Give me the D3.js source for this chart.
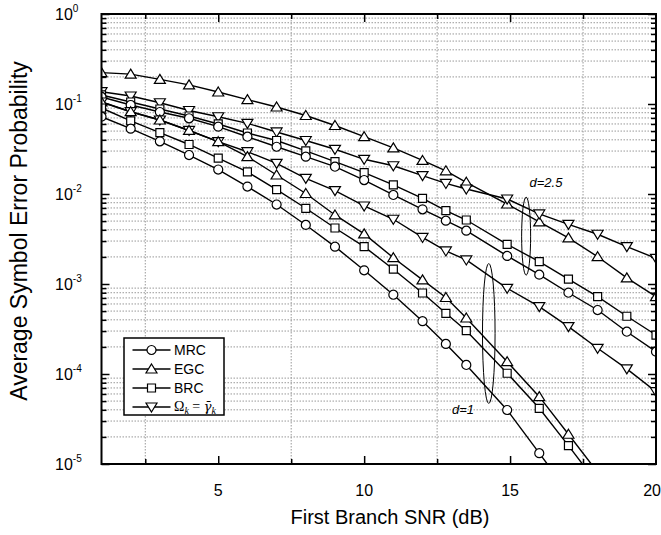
<!DOCTYPE html>
<html>
<head>
<meta charset="utf-8">
<script src="https://cdn.jsdelivr.net/npm/d3@7"></script>
<style>
  body { margin: 0; background: #fff; }
  svg { font-family: "Liberation Sans", Arial, sans-serif; }
</style>
</head>
<body>
<svg id="chart" width="661" height="535"></svg>
<script>
// first branch SNR (dB) where the markers sit
var snr = [1, 2, 3, 4, 5, 6, 7, 8, 9, 10, 11, 12, 12.8, 13.5, 14.9, 16, 17, 18, 19, 20];

// d = 2.5
var egc25 = [0.223, 0.215, 0.188, 0.163, 0.136, 0.112, 0.0926, 0.0745, 0.0577, 0.0433, 0.0325, 0.0236, 0.0181, 0.0135, 0.00774, 0.00489, 0.00325, 0.00201, 0.00117, 0.000723];
var omega25 = [0.137, 0.1227, 0.1033, 0.0847, 0.0722, 0.061, 0.0489, 0.0393, 0.0314, 0.0243, 0.0206, 0.016, 0.0131, 0.01137, 0.0088, 0.006, 0.0046, 0.00357, 0.0026, 0.00193];
var brc25 = [0.126, 0.1052, 0.088, 0.0736, 0.06, 0.0476, 0.0393, 0.0301, 0.0229, 0.0173, 0.0126, 0.00896, 0.00652, 0.00514, 0.00276, 0.00177, 0.00113, 0.000723, 0.000438, 0.000271];
var mrc25 = [0.1197, 0.0975, 0.0815, 0.0694, 0.056, 0.0433, 0.0335, 0.026, 0.0201, 0.0143, 0.00975, 0.00676, 0.00505, 0.00391, 0.00205, 0.00127, 0.0008, 0.000514, 0.000295, 0.000177];

// d = 1
var omega1 = [0.1052, 0.0821, 0.0664, 0.0508, 0.0381, 0.0295, 0.0219, 0.0149, 0.0109, 0.00736, 0.00524, 0.00329, 0.00233, 0.00185, 0.000896, 0.00056, 0.000336, 0.000193, 0.000114, 0.0000636];
var egc1 = [0.1052, 0.0821, 0.0664, 0.0508, 0.0381, 0.026, 0.01626, 0.01013, 0.00585, 0.0036, 0.00196, 0.00111, 0.000708, 0.000419, 0.000137, 0.000056, 0.0000214, 0.0000081];
var brc1 = [0.0903, 0.0648, 0.0482, 0.0355, 0.0251, 0.0176, 0.0112, 0.00694, 0.00419, 0.0026, 0.00146, 0.000794, 0.000472, 0.000303, 0.000102, 0.0000416, 0.000016, 0.000006];
var mrc1 = [0.0722, 0.0532, 0.0385, 0.0271, 0.0187, 0.0121, 0.00764, 0.00453, 0.0026, 0.00142, 0.00076, 0.000386, 0.000216, 0.000126, 0.0000398, 0.0000132, 0.0000048];

// ticks
var xLabels = [5, 10, 15, 20];
var xMajor = [5, 10, 15];
var xMinor = [2.5, 7.5, 12.5, 17.5];
var decades = [-5, -4, -3, -2, -1, 0];

var legendNames = ["MRC", "EGC", "BRC", "Omega"];

var svg = d3.select("#chart");
var margin = { top: 14, right: 5, bottom: 71, left: 101.5 };
var width = 661 - margin.left - margin.right;
var height = 535 - margin.top - margin.bottom;

var g = svg.append("g")
  .attr("transform", "translate(" + margin.left + "," + margin.top + ")");

var x = d3.scaleLinear().domain([1, 20]).range([0, width]);
var y = d3.scaleLog().domain([1e-5, 1]).range([height, 0]);

// minor log ticks 2..9 in each decade
var yMinor = [];
decades.forEach(function(p) {
  if (p < 0) for (var k = 2; k <= 9; k++) yMinor.push(k * Math.pow(10, p));
});
var yMajor = decades.map(function(p) { return Math.pow(10, p); });

// dotted grid
g.append("g").selectAll("line").data(yMinor).enter().append("line")
  .attr("x1", 0).attr("x2", width)
  .attr("y1", function(d) { return y(d); }).attr("y2", function(d) { return y(d); })
  .attr("stroke", "#999").attr("stroke-width", 1).attr("stroke-dasharray", "1.5,1.5");
g.append("g").selectAll("line").data(xMinor).enter().append("line")
  .attr("y1", 0).attr("y2", height)
  .attr("x1", function(d) { return x(d); }).attr("x2", function(d) { return x(d); })
  .attr("stroke", "#999").attr("stroke-width", 1).attr("stroke-dasharray", "1.5,1.5");

// inward ticks on all four sides
function ticks(axis, values, size, tr) {
  var a = g.append("g").attr("transform", tr)
    .call(axis.tickValues(values).tickSize(-size).tickFormat(""));
  a.select(".domain").remove();
  a.selectAll("line").attr("stroke", "#000").attr("stroke-width", 1.5);
}
ticks(d3.axisBottom(x), xMajor, 8, "translate(0," + height + ")");
ticks(d3.axisBottom(x), xMinor, 5, "translate(0," + height + ")");
ticks(d3.axisTop(x), xMajor, 8, "translate(0,0)");
ticks(d3.axisTop(x), xMinor, 5, "translate(0,0)");
ticks(d3.axisLeft(y), yMajor, 8, "translate(0,0)");
ticks(d3.axisLeft(y), yMinor, 5, "translate(0,0)");
ticks(d3.axisRight(y), yMajor, 8, "translate(" + width + ",0)");
ticks(d3.axisRight(y), yMinor, 5, "translate(" + width + ",0)");

// curves
var series = [
  { values: egc25, shape: "up" },
  { values: omega25, shape: "down" },
  { values: brc25, shape: "square" },
  { values: mrc25, shape: "circle" },
  { values: omega1, shape: "down" },
  { values: egc1, shape: "up" },
  { values: brc1, shape: "square" },
  { values: mrc1, shape: "circle" }
];

g.append("clipPath").attr("id", "plotclip")
  .append("rect").attr("width", width).attr("height", height);

var plot = g.append("g").attr("clip-path", "url(#plotclip)");

var line = d3.line()
  .x(function(d, i) { return x(snr[i]); })
  .y(function(d) { return y(d); });

plot.selectAll(".curve").data(series).enter().append("path")
  .attr("class", "curve")
  .attr("d", function(s) { return line(s.values); })
  .attr("fill", "none").attr("stroke", "#000").attr("stroke-width", 1.4);

function markerPath(shape) {
  if (shape == "circle") return d3.symbol(d3.symbolCircle, 64)();
  if (shape == "square") return "M-4,-4H4V4H-4Z";
  if (shape == "up") return "M0,-5L5.5,4L-5.5,4Z";
  return "M0,5L5.5,-4L-5.5,-4Z";
}

series.forEach(function(s) {
  plot.append("g").selectAll("path").data(s.values).enter().append("path")
    .attr("transform", function(d, i) { return "translate(" + x(snr[i]) + "," + y(d) + ")"; })
    .attr("d", markerPath(s.shape))
    .attr("fill", "#fff").attr("stroke", "#000").attr("stroke-width", 1.2);
});

// frame
g.append("rect").attr("width", width).attr("height", height)
  .attr("fill", "none").attr("stroke", "#000").attr("stroke-width", 2);

// tick labels ("20" sits on the right edge, kept inside the page)
g.append("g").selectAll("text").data(xLabels).enter().append("text")
  .attr("x", function(d) { return d == 20 ? width + 5 : x(d); })
  .attr("y", height + 32)
  .attr("text-anchor", function(d) { return d == 20 ? "end" : "middle"; })
  .style("font-size", "16px")
  .text(function(d) { return d; });

var ylab = g.append("g").selectAll("text").data(decades).enter().append("text")
  .attr("x", -46.5)
  .attr("y", function(d) { return y(Math.pow(10, d)) + 6; })
  .style("font-size", "16px");
ylab.append("tspan").text("10");
ylab.append("tspan").attr("dy", -8).style("font-size", "10px").text(function(d) { return d; });

// axis titles
svg.append("text")
  .attr("transform", "rotate(-90)")
  .attr("x", -231).attr("y", 27)
  .attr("text-anchor", "middle")
  .style("font-size", "23px")
  .text("Average Symbol Error Probability");
svg.append("text")
  .attr("x", 390).attr("y", 524)
  .attr("text-anchor", "middle")
  .style("font-size", "20px")
  .text("First Branch SNR (dB)");

// d annotations
g.append("ellipse")
  .attr("cx", x(15.55)).attr("cy", y(0.0034)).attr("rx", 4.5).attr("ry", 39)
  .attr("fill", "none").attr("stroke", "#000").attr("stroke-width", 1);
g.append("ellipse")
  .attr("cx", x(14.27)).attr("cy", y(0.000282)).attr("rx", 6.3).attr("ry", 70)
  .attr("fill", "none").attr("stroke", "#000").attr("stroke-width", 1);
g.append("text")
  .attr("x", x(16.23)).attr("y", y(0.012))
  .attr("text-anchor", "middle").style("font-size", "13px").style("font-style", "italic")
  .text("d=2.5");
g.append("text")
  .attr("x", x(13.39)).attr("y", y(0.000036))
  .attr("text-anchor", "middle").style("font-size", "13px").style("font-style", "italic")
  .text("d=1");

// legend
var legend = svg.append("g").attr("transform", "translate(124,338)");
legend.append("rect").attr("width", 100).attr("height", 77)
  .attr("fill", "#fff").attr("stroke", "#000").attr("stroke-width", 1.5);
var legendShapes = ["circle", "up", "square", "down"];
var item = legend.selectAll(".item").data(legendNames).enter().append("g")
  .attr("class", "item")
  .attr("transform", function(d, i) { return "translate(0," + (12 + i * 19) + ")"; });
item.append("line").attr("x1", 8.5).attr("x2", 46.5)
  .attr("stroke", "#000").attr("stroke-width", 1.3);
item.append("path")
  .attr("transform", "translate(27.5,0)")
  .attr("d", function(d, i) { return markerPath(legendShapes[i]); })
  .attr("fill", "#fff").attr("stroke", "#000").attr("stroke-width", 1.2);
item.filter(function(d) { return d != "Omega"; }).append("text")
  .attr("x", 50).attr("y", 5)
  .style("font-size", "14px")
  .text(function(d) { return d; });
var om = item.filter(function(d) { return d == "Omega"; }).append("text")
  .attr("x", 50).attr("y", 4)
  .style("font-size", "14px");
om.append("tspan").style("font-family", "Liberation Serif").text("Ω");
om.append("tspan").attr("dy", 3).style("font-size", "10px").style("font-family", "Liberation Serif").style("font-style", "italic").text("k");
om.append("tspan").attr("dy", -3).style("font-family", "Liberation Serif").text(" = ");
om.append("tspan").style("font-family", "DejaVu Serif").style("font-style", "italic").style("font-size", "13px").text("γ\u0304");
om.append("tspan").attr("dy", 3).style("font-size", "10px").style("font-family", "Liberation Serif").style("font-style", "italic").text("k");
</script>
</body>
</html>
